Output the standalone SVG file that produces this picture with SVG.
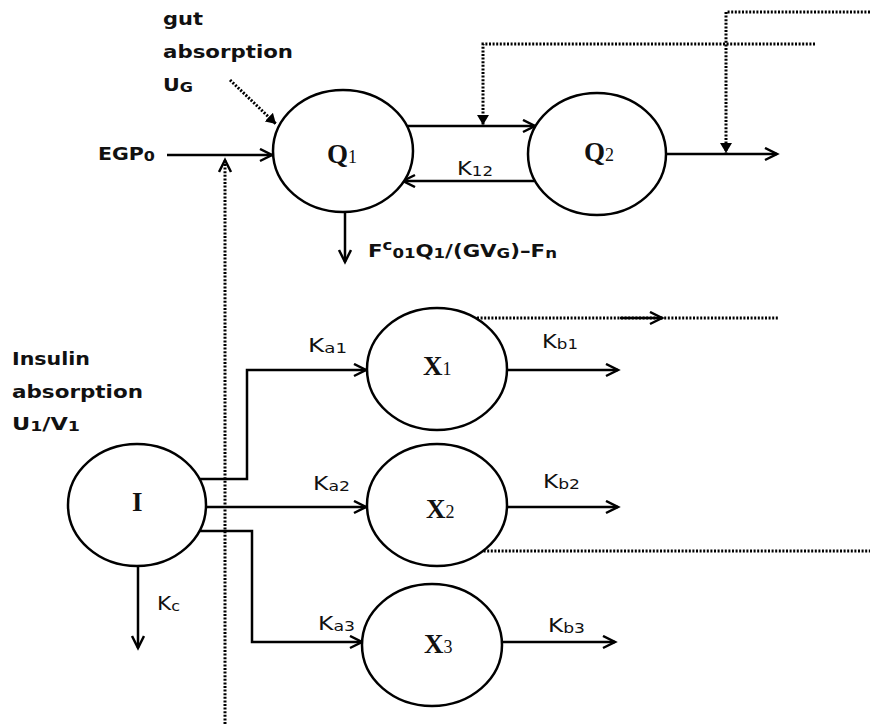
<svg xmlns="http://www.w3.org/2000/svg" width="870" height="724" viewBox="0 0 870 724">
<style>
.node{fill:#fff;stroke:#000;stroke-width:2.5}
.nl{font-family:"Liberation Serif","Times New Roman",serif;font-weight:bold;font-size:27px;fill:#111}
.nl .s{font-size:18px;font-weight:normal}
.lb{font-family:"DejaVu Sans",Verdana,sans-serif;font-weight:bold;font-size:18px;fill:#111}
.kl{font-family:"DejaVu Sans",Verdana,sans-serif;font-size:19px;fill:#111}
.s{font-size:14px}
.ln{fill:none;stroke:#000;stroke-width:2.5}
.dt{fill:none;stroke:#000;stroke-width:3;stroke-dasharray:2 1.6}
</style>
<defs>
<marker id="open" markerUnits="userSpaceOnUse" markerWidth="16" markerHeight="16" refX="13" refY="7" orient="auto">
<path d="M1,1 L13,7 L1,13" fill="none" stroke="#000" stroke-width="2.5"/>
</marker>
<marker id="tri" markerUnits="userSpaceOnUse" markerWidth="12" markerHeight="12" refX="10" refY="6" orient="auto">
<path d="M0,0 L10,6 L0,12 Z" fill="#000"/>
</marker>
</defs>
<rect width="870" height="724" fill="#fff"/>
<g id="connectors">
<path class="ln" d="M167,155 H272" marker-end="url(#open)"/>
<path class="dt" d="M225,724 V163"/>
<path class="ln" d="M225,162 L225,160" marker-end="url(#open)"/>
<path class="dt" d="M230,80 L276,124" marker-end="url(#tri)"/>
<path class="ln" d="M407,126 H535" marker-end="url(#open)"/>
<path class="ln" d="M534,181 H403" marker-end="url(#open)"/>
<path class="dt" d="M815,44 H483 V125" marker-end="url(#tri)"/>
<path class="ln" d="M345,212 V262" marker-end="url(#open)"/>
<path class="ln" d="M667,154 H777" marker-end="url(#open)"/>
<path class="dt" d="M870,12 H726 V153" marker-end="url(#tri)"/>
<path class="ln" d="M200,479 H247 V370 H366" marker-end="url(#open)"/>
<path class="ln" d="M206,507 H366" marker-end="url(#open)"/>
<path class="ln" d="M200,531 H252 V642 H362" marker-end="url(#open)"/>
<path class="ln" d="M138,566 V648" marker-end="url(#open)"/>
<path class="dt" d="M477,318 H778"/>
<path class="ln" d="M620,318 H662" marker-end="url(#open)"/>
<path class="ln" d="M506,370 H618" marker-end="url(#open)"/>
<path class="ln" d="M506,507 H618" marker-end="url(#open)"/>
<path class="ln" d="M502,642 H615" marker-end="url(#open)"/>
<path class="dt" d="M480,551 H870"/>
</g>
<g id="Q1"><ellipse class="node" cx="343" cy="151" rx="70" ry="61"/><text class="nl" x="327" y="163">Q<tspan class="s">1</tspan></text></g>
<g id="Q2"><ellipse class="node" cx="597" cy="154" rx="69" ry="61"/><text class="nl" x="584" y="161">Q<tspan class="s">2</tspan></text></g>
<g id="I"><ellipse class="node" cx="137" cy="505" rx="69" ry="61"/><text class="nl" x="132" y="511">I</text></g>
<g id="X1"><ellipse class="node" cx="437" cy="369" rx="70" ry="61"/><text class="nl" x="423" y="375">X<tspan class="s">1</tspan></text></g>
<g id="X2"><ellipse class="node" cx="437" cy="505" rx="70" ry="61"/><text class="nl" x="426" y="518">X<tspan class="s">2</tspan></text></g>
<g id="X3"><ellipse class="node" cx="432" cy="645" rx="70" ry="61"/><text class="nl" x="424" y="653">X<tspan class="s">3</tspan></text></g>
<g id="labels">
<text class="lb" x="163" y="25" textLength="40" lengthAdjust="spacingAndGlyphs">gut</text>
<text class="lb" x="163" y="58" textLength="130" lengthAdjust="spacingAndGlyphs">absorption</text>
<text class="lb" x="163" y="91" textLength="30" lengthAdjust="spacingAndGlyphs">U<tspan class="s" dy="1">G</tspan></text>
<text class="lb" x="98" y="160" textLength="57" lengthAdjust="spacingAndGlyphs">EGP<tspan class="s" dy="1">0</tspan></text>
<text class="lb" x="368" y="257" textLength="189" lengthAdjust="spacingAndGlyphs">F<tspan class="s" dy="-7">c</tspan><tspan class="s" dy="8">01</tspan><tspan dy="-1">Q</tspan><tspan class="s" dy="1">1</tspan><tspan dy="-1">/(GV</tspan><tspan class="s" dy="1">G</tspan><tspan dy="-1">)–F</tspan><tspan class="s" dy="1">n</tspan></text>
<text class="kl" x="457" y="175" textLength="36" lengthAdjust="spacingAndGlyphs">K<tspan class="s" dy="1">12</tspan></text>
<text class="lb" x="12" y="365" textLength="78" lengthAdjust="spacingAndGlyphs">Insulin</text>
<text class="lb" x="12" y="398" textLength="131" lengthAdjust="spacingAndGlyphs">absorption</text>
<text class="lb" x="12" y="430" textLength="68" lengthAdjust="spacingAndGlyphs">U<tspan class="s" dy="1">1</tspan><tspan dy="-1">/V</tspan><tspan class="s" dy="1">1</tspan></text>
<text class="kl" x="308" y="352" textLength="39" lengthAdjust="spacingAndGlyphs">K<tspan class="s" dy="1">a1</tspan></text>
<text class="kl" x="313" y="490" textLength="37" lengthAdjust="spacingAndGlyphs">K<tspan class="s" dy="1">a2</tspan></text>
<text class="kl" x="318" y="630" textLength="37" lengthAdjust="spacingAndGlyphs">K<tspan class="s" dy="1">a3</tspan></text>
<text class="kl" x="157" y="610" textLength="23" lengthAdjust="spacingAndGlyphs">K<tspan class="s" dy="1">c</tspan></text>
<text class="kl" x="542" y="348" textLength="36" lengthAdjust="spacingAndGlyphs">K<tspan class="s" dy="1">b1</tspan></text>
<text class="kl" x="543" y="488" textLength="37" lengthAdjust="spacingAndGlyphs">K<tspan class="s" dy="1">b2</tspan></text>
<text class="kl" x="548" y="632" textLength="37" lengthAdjust="spacingAndGlyphs">K<tspan class="s" dy="1">b3</tspan></text>
</g>
</svg>
